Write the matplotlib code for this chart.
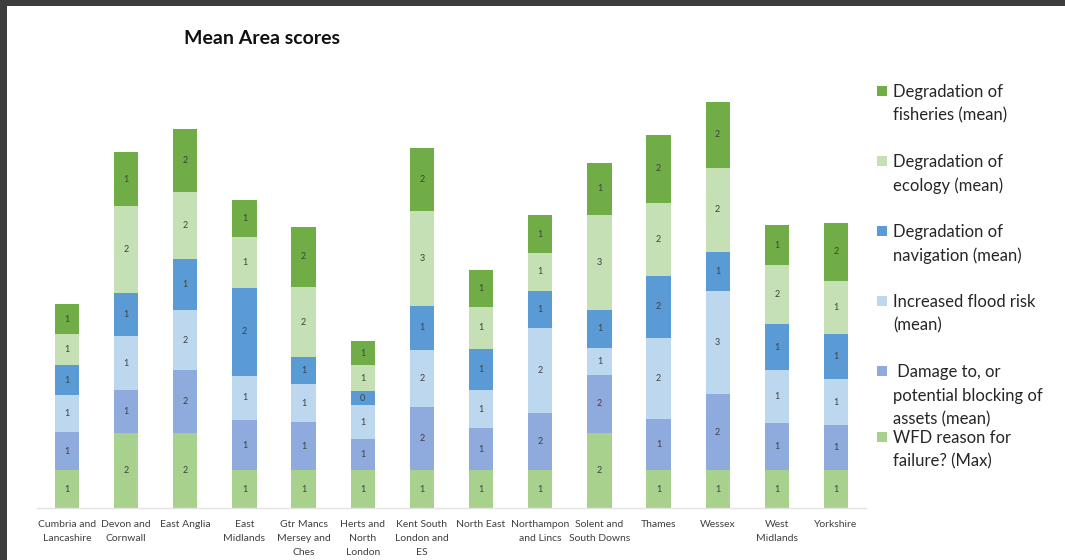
import matplotlib
matplotlib.use("Agg")
import matplotlib.pyplot as plt
from matplotlib.patches import Rectangle
import numpy as np

plt.rcParams['font.family'] = ['Lato', 'DejaVu Sans']

categories = [
    "Cumbria and\nLancashire", "Devon and\nCornwall", "East Anglia", "East\nMidlands",
    "Gtr Mancs\nMersey and\nChes", "Herts and\nNorth\nLondon", "Kent South\nLondon and\nES",
    "North East", "Northampon\nand Lincs", "Solent and\nSouth Downs", "Thames", "Wessex",
    "West\nMidlands", "Yorkshire",
]

wfd_failure = [1, 2, 2, 1, 1, 1, 1, 1, 1, 2, 1, 1, 1, 1]
damage_assets = [1.01, 1.13, 1.66, 1.34, 1.27, 0.84, 1.68, 1.11, 1.52, 1.52, 1.35, 2.02, 1.25, 1.20]
flood_risk = [0.98, 1.43, 1.59, 1.17, 1.02, 0.88, 1.52, 1.01, 2.25, 0.73, 2.17, 2.74, 1.40, 1.21]
navigation = [0.81, 1.15, 1.36, 2.33, 0.71, 0.38, 1.17, 1.11, 0.99, 1.00, 1.63, 1.02, 1.24, 1.21]
ecology = [0.81, 2.30, 1.76, 1.35, 1.86, 0.69, 2.52, 1.09, 1.00, 2.52, 1.95, 2.25, 1.55, 1.40]
fisheries = [0.80, 1.42, 1.69, 0.99, 1.60, 0.64, 1.67, 1.00, 1.01, 1.39, 1.79, 1.75, 1.06, 1.55]

series_names = [
    "WFD reason for\nfailure? (Max)",
    " Damage to, or\npotential blocking of\nassets (mean)",
    "Increased flood risk\n(mean)",
    "Degradation of\nnavigation (mean)",
    "Degradation of\necology (mean)",
    "Degradation of\nfisheries (mean)",
]
series_values = [wfd_failure, damage_assets, flood_risk, navigation, ecology, fisheries]
series_colors = ["#a9d18e", "#8faadc", "#bdd7ee", "#5b9bd5", "#c5e0b4", "#70ad47"]

W, H = 1065, 560
fig = plt.figure(figsize=(W / 100, H / 100), dpi=100)
fig.patch.set_facecolor("white")

# dark frame along the top and left edges
fig.patches.append(Rectangle((0, 1 - 6 / H), 1, 6 / H, transform=fig.transFigure,
                             facecolor="#3d3d3d", edgecolor="none", zorder=0))
fig.patches.append(Rectangle((0, 0), 7 / W, 1, transform=fig.transFigure,
                             facecolor="#3d3d3d", edgecolor="none", zorder=0))

left_px, right_px = 37.4, 865.6
base_px, top_px = 508, 93.3
ax = fig.add_axes([left_px / W, 1 - base_px / H, (right_px - left_px) / W, (base_px - top_px) / H])

x = np.arange(len(categories))
bottom = np.zeros(len(categories))
for vals, col in zip(series_values, series_colors):
    v = np.array(vals, dtype=float)
    bars = ax.bar(x, v, width=0.41, bottom=bottom, color=col, edgecolor="none")
    ax.bar_label(bars, fmt="%.0f", label_type="center", fontsize=6.5, color="#404040")
    bottom += v

ax.set_xlim(-0.5, len(categories) - 0.5)
ax.set_ylim(0, 11)
ax.set_yticks([])
ax.set_xticks(x)
ax.set_xticklabels(categories, fontsize=7.5, color="#404040")
for lbl in ax.get_xticklabels():
    lbl.set_linespacing(1.75)
ax.tick_params(axis="x", length=0, pad=8.5)
for s in ["top", "right", "left"]:
    ax.spines[s].set_visible(False)
ax.spines["bottom"].set_color("#e3e3e3")
ax.spines["bottom"].set_linewidth(1.0)

fig.text(262 / W, 1 - 38 / H, "Mean Area scores", fontsize=14, fontweight="bold",
         ha="center", va="center", color="#111111")

# legend, listed top to bottom in reverse stacking order
legend_first_line = [91, 161, 231, 301, 371, 437]
for name, col, yc in zip(series_names[::-1], series_colors[::-1], legend_first_line):
    fig.patches.append(Rectangle((877 / W, 1 - (yc + 5) / H), 10 / W, 10 / H,
                                 transform=fig.transFigure, facecolor=col, edgecolor="none"))
    fig.text(893 / W, 1 - (yc - 7) / H, name, fontsize=12, ha="left", va="top",
             color="#262626", linespacing=1.58)

fig.savefig("out.png", dpi=100, facecolor="white")
